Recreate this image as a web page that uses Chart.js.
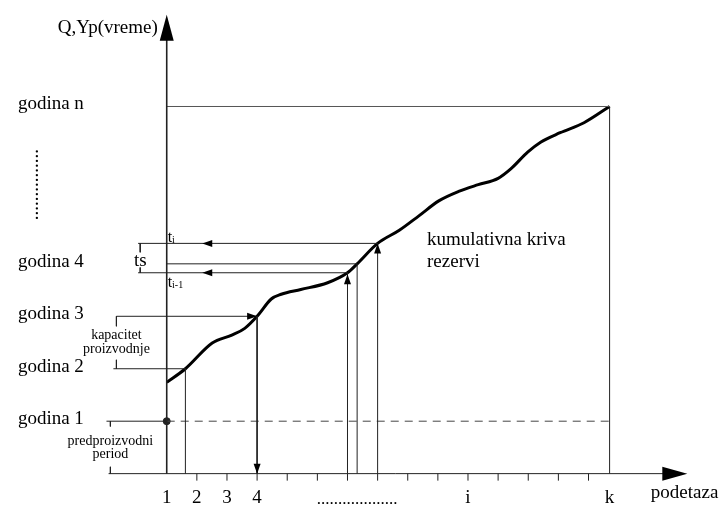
<!DOCTYPE html>
<html>
<head>
<meta charset="utf-8">
<title>Kumulativna kriva rezervi</title>
<script src="https://cdn.jsdelivr.net/npm/chart.js@4.4.1/dist/chart.umd.min.js"></script>
<style>
    body { margin: 0; background: #fff; }
    #wrap { width: 722px; height: 512px; }
</style>
</head>
<body>
<div id="wrap"><canvas id="diagram" width="722" height="512"></canvas></div>
<script>
// Cumulative curve (x = podetaza, y = godina)
const curveX = [1, 1.62, 2.51, 3.16, 3.59, 4, 4.47, 4.8, 5.45, 6.34, 7, 7.32, 8, 8.72, 9.38, 10.03, 10.69, 11.34, 12, 12.42, 12.98, 13.41, 14.06, 14.85, 15.7];
const curveY = [1.74, 2, 2.49, 2.64, 2.77, 3, 3.33, 3.42, 3.51, 3.64, 3.83, 4, 4.39, 4.64, 4.92, 5.2, 5.38, 5.51, 5.63, 5.81, 6.13, 6.32, 6.5, 6.69, 7];

// Levels on the vertical axis
const levelNames = ['godina 1', 'godina 2', 'godina 3', 'godina 4', 'godina n'];
const levelValues = [1, 2, 3, 4, 7];

// Horizontal axis ticks and labels
const tickValues = [2, 3, 4, 5, 6, 7, 8, 9, 10, 11, 12, 13, 14, 15];
const tickLabelPos = [1, 2, 3, 4, 11, 15.7];
const tickLabelText = ['1', '2', '3', '4', 'i', 'k'];

// Construction lines [x1, y1, x2, y2]
const guideLines = [
    [-0.93, 0, 18.1, 0],      // x axis
    [1, 0, 1, 8.5],           // y axis
    [1, 7, 15.7, 7],          // godina n
    [1, 4, 7.32, 4],          // godina 4
    [0.05, 4.39, 8, 4.39],    // t i
    [0.05, 3.83, 7, 3.83],    // t i-1
    [-0.67, 3, 4, 3],         // godina 3
    [-0.77, 2, 1.62, 2],      // godina 2
    [-1.0, 1, 1, 1],          // godina 1
    [1.62, 0, 1.62, 2],
    [4, 3, 4, 0],
    [7, 0, 7, 3.83],
    [7.32, 0, 7.32, 4],
    [8, 0, 8, 4.39],
    [15.7, 0, 15.7, 7],
    [0.12, 4.39, 0.12, 4.22], // ts bracket
    [0.12, 3.93, 0.12, 3.83],
    [-0.67, 3, -0.67, 2.81],  // kapacitet bracket
    [-0.67, 2.17, -0.67, 2],
    [-0.87, 1, -0.87, 0.9],   // predproizvodni bracket
    [-0.87, 0.13, -0.87, 0]
];
const dashedLine = [1, 1, 15.7, 1];

// Arrow heads [tipX, tipY, direction, length, halfWidth]
const arrows = [
    [1, 8.75, 'up', 26, 7],
    [18.28, 0, 'right', 25, 7],
    [2.18, 4.39, 'left', 10, 3.5],
    [2.18, 3.83, 'left', 10, 3.5],
    [4, 3, 'right', 10, 3.5],
    [4, 0, 'down', 10, 3.5],
    [7, 3.8, 'up', 10, 3.5],
    [8, 4.39, 'up', 10, 3.5]
];

const FONT = '"Liberation Serif", "Times New Roman", serif';
const INK = '#222';

document.addEventListener('DOMContentLoaded', function() {
    buildDiagram();
});

function buildDiagram() {
    const datasets = [];

    // Guide lines
    guideLines.forEach(seg => {
        datasets.push({
            data: [{ x: seg[0], y: seg[1] }, { x: seg[2], y: seg[3] }],
            showLine: true,
            borderColor: seg[1] === 7 && seg[3] === 7 ? '#555' : INK,
            borderWidth: seg[0] === 1 && seg[2] === 1 ? 1.6 : 1,
            pointRadius: 0
        });
    });

    // Dashed godina 1 line
    datasets.push({
        data: [{ x: dashedLine[0], y: dashedLine[1] }, { x: dashedLine[2], y: dashedLine[3] }],
        showLine: true,
        borderColor: '#444',
        borderWidth: 1,
        borderDash: [8, 6],
        pointRadius: 0
    });

    // Start point
    datasets.push({
        data: [{ x: 1, y: 1 }],
        showLine: false,
        pointRadius: 3.5,
        pointBackgroundColor: INK,
        pointBorderColor: INK
    });

    // Cumulative curve
    datasets.push({
        data: curveX.map((x, i) => ({ x: x, y: curveY[i] })),
        showLine: true,
        borderColor: '#000',
        borderWidth: 3,
        cubicInterpolationMode: 'monotone',
        pointRadius: 0
    });

    const ctx = document.getElementById('diagram').getContext('2d');
    new Chart(ctx, {
        type: 'scatter',
        data: { datasets: datasets },
        options: {
            responsive: false,
            animation: false,
            layout: { padding: 0 },
            plugins: {
                legend: { display: false },
                tooltip: { enabled: false }
            },
            scales: {
                x: { type: 'linear', display: false, min: -4.368, max: 19.265 },
                y: { type: 'linear', display: false, min: -0.636, max: 8.935 }
            }
        },
        plugins: [decorations]
    });
}

// Arrow heads, ticks and texts
const decorations = {
    id: 'decorations',
    afterDatasetsDraw(chart) {
        const c = chart.ctx;
        const sx = chart.scales.x;
        const sy = chart.scales.y;
        const px = v => sx.getPixelForValue(v);
        const py = v => sy.getPixelForValue(v);

        c.save();

        // Arrow heads
        c.fillStyle = '#000';
        arrows.forEach(a => {
            const x = px(a[0]), y = py(a[1]), l = a[3], w = a[4];
            c.beginPath();
            c.moveTo(x, y);
            if (a[2] === 'up') { c.lineTo(x - w, y + l); c.lineTo(x + w, y + l); }
            if (a[2] === 'down') { c.lineTo(x - w, y - l); c.lineTo(x + w, y - l); }
            if (a[2] === 'left') { c.lineTo(x + l, y - w); c.lineTo(x + l, y + w); }
            if (a[2] === 'right') { c.lineTo(x - l, y - w); c.lineTo(x - l, y + w); }
            c.closePath();
            c.fill();
        });

        // Ticks below the x axis
        c.strokeStyle = INK;
        c.lineWidth = 1;
        tickValues.forEach(v => {
            c.beginPath();
            c.moveTo(px(v), py(0));
            c.lineTo(px(v), py(0) + 7);
            c.stroke();
        });

        c.fillStyle = '#000';
        c.textBaseline = 'middle';

        // Tick labels
        c.font = '19px ' + FONT;
        c.textAlign = 'center';
        tickLabelPos.forEach((v, i) => {
            c.fillText(tickLabelText[i], px(v), py(-0.47));
        });
        c.font = '17px ' + FONT;
        c.fillText('...................', px(7.32), py(-0.5));

        // Axis titles
        c.font = '19px ' + FONT;
        c.textAlign = 'right';
        c.fillText('Q,Yp(vreme)', px(0.705), py(8.5));
        c.textAlign = 'left';
        c.fillText('podetaza', px(17.07), py(-0.37));

        // Level labels
        levelNames.forEach((name, i) => {
            c.fillText(name, px(-3.94), py(levelValues[i] + 0.04));
        });

        // Vertical dots between godina 4 and godina n
        c.save();
        c.translate(px(-3.29), py(5.51));
        c.rotate(-Math.PI / 2);
        c.textAlign = 'center';
        c.fillText('...............', 0, -4);
        c.restore();

        // Curve label
        c.fillText('kumulativna kriva', px(9.64), py(4.45));
        c.fillText('rezervi', px(9.64), py(4.04));

        // ts bracket label
        c.textAlign = 'center';
        c.fillText('ts', px(0.12), py(4.06));

        // Small bracket labels
        c.font = '14px ' + FONT;
        c.fillText('kapacitet', px(-0.67), py(2.64));
        c.fillText('proizvodnje', px(-0.67), py(2.37));
        c.fillText('predproizvodni', px(-0.87), py(0.62));
        c.fillText('period', px(-0.87), py(0.37));

        // t i and t i-1 with subscripts
        c.textAlign = 'left';
        drawSub(c, 't', 'i', px(1.03), py(4.5));
        drawSub(c, 't', 'i-1', px(1.03), py(3.64));

        c.restore();
    }
};

function drawSub(c, main, sub, x, y) {
    c.font = '16px ' + FONT;
    c.fillText(main, x, y);
    const w = c.measureText(main).width;
    c.font = '10px ' + FONT;
    c.fillText(sub, x + w, y + 3);
}
</script>
</body>
</html>
